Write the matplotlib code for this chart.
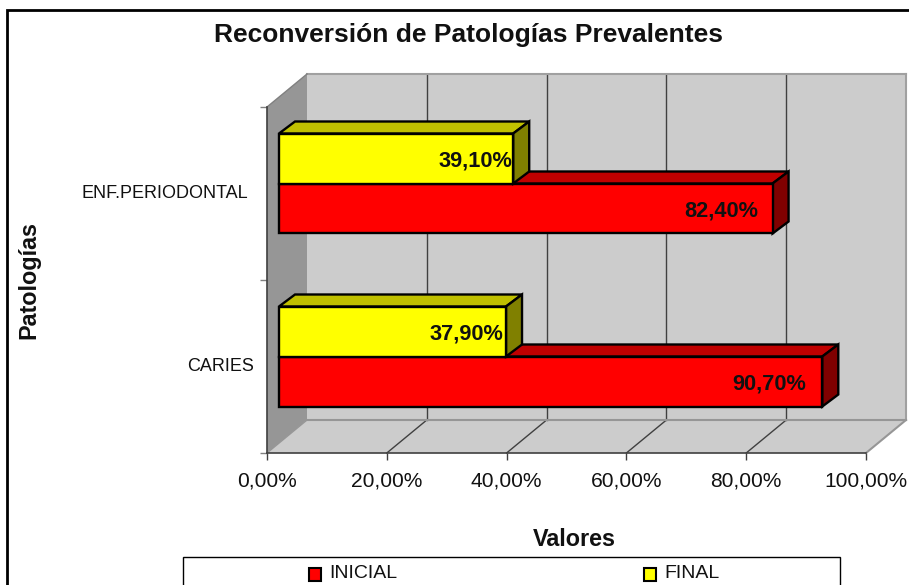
import matplotlib
matplotlib.use('Agg')
import matplotlib.pyplot as plt
from matplotlib.patches import Polygon, Rectangle

plt.rcParams['font.family'] = ['Liberation Sans', 'DejaVu Sans']

categories = ['CARIES', 'ENF.PERIODONTAL']
inicial = [90.7, 82.4]
final = [37.9, 39.1]
x_ticks = [0, 20, 40, 60, 80, 100]
x_tick_labels = ['0,00%', '20,00%', '40,00%', '60,00%', '80,00%', '100,00%']
series_names = ['INICIAL', 'FINAL']

W, H = 909, 585

fig = plt.figure(figsize=(W / 100, H / 100), dpi=100, facecolor='white')

# eje = plano frontal del grafico 3D, en pixeles de la imagen
ax = fig.add_axes([267 / W, 1 - 453 / H, (866 - 267) / W, (453 - 107) / H])
ax.set_xlim(0, 100)
ax.set_ylim(0, 2)
ax.patch.set_visible(False)
for s in ax.spines.values():
    s.set_visible(False)

# profundidad en unidades de datos
PX = 5.99
PY = 173.0
DX = 40 / PX
DY = 33 / PY
BAR_FX = 12 / PX
BAR_FY = 10 / PY
BAR_DX = 16 / PX
BAR_DY = 12 / PY
BAR_H = 50 / PY

WALL = '#cccccc'
SIDE = '#969696'
GRID = '#404040'
INK = '#111111'


def poly(pts, fc, ec='none', lw=0, z=1):
    ax.add_patch(Polygon(pts, closed=True, facecolor=fc, edgecolor=ec, linewidth=lw,
                         zorder=z, clip_on=False, joinstyle='miter'))


# pared del fondo, pared izquierda y piso
poly([(DX, DY), (100 + DX, DY), (100 + DX, 2 + DY), (DX, 2 + DY)], WALL, z=1)
poly([(0, 0), (DX, DY), (DX, 2 + DY), (0, 2)], SIDE, z=1)
poly([(0, 0), (100, 0), (100 + DX, DY), (DX, DY)], WALL, z=1)

for t in x_ticks[1:-1]:
    ax.plot([t + DX, t + DX], [DY, 2 + DY], color=GRID, lw=1, zorder=2, clip_on=False)
    ax.plot([t, t + DX], [0, DY], color=GRID, lw=1, zorder=2, clip_on=False)

# bordes grises de las paredes
ax.plot([DX, 100 + DX], [2 + DY, 2 + DY], color='#a0a0a0', lw=1.5, zorder=2, clip_on=False)
ax.plot([DX, 100 + DX], [DY, DY], color='#969696', lw=1.5, zorder=2, clip_on=False)
ax.plot([100 + DX, 100 + DX], [DY, 2 + DY], color='#a0a0a0', lw=1.5, zorder=2, clip_on=False)
ax.plot([100, 100 + DX], [0, DY], color='#969696', lw=1.5, zorder=2, clip_on=False)
ax.plot([0, DX], [2, 2 + DY], color='#808080', lw=1, zorder=2, clip_on=False)
ax.plot([0, DX], [0, DY], color='#969696', lw=1, zorder=2, clip_on=False)

# ejes frontales
ax.plot([0, 0], [0, 2], color='#404040', lw=1.2, zorder=3, clip_on=False)
ax.plot([0, 100], [0, 0], color='#404040', lw=1.2, zorder=3, clip_on=False)
ax.set_xticks(x_ticks)
ax.set_xticklabels(x_tick_labels, fontsize=15.1, color=INK)
ax.set_yticks([0, 1, 2])
ax.set_yticklabels([])
ax.tick_params(axis='x', length=5, width=1, color='#404040', pad=8)
ax.tick_params(axis='y', length=5, width=1, color='#808080')


def bar3d(v, y0, h, front, side, top, z):
    x0 = BAR_FX
    x1 = BAR_FX + v
    b = y0
    t = y0 + h
    lw = 1.7
    poly([(x0, t), (x1, t), (x1 + BAR_DX, t + BAR_DY), (x0 + BAR_DX, t + BAR_DY)], top, 'black', lw, z)
    poly([(x1, b), (x1 + BAR_DX, b + BAR_DY), (x1 + BAR_DX, t + BAR_DY), (x1, t)], side, 'black', lw, z)
    poly([(x0, b), (x1, b), (x1, t), (x0, t)], front, 'black', lw, z)


for i, name in enumerate(categories):
    base = i + 0.5 + BAR_FY
    nudge = 0.3 * i  # la fila de arriba va un poco mas a la derecha
    bar3d(inicial[i], base - BAR_H, BAR_H, '#ff0000', '#800000', '#c00000', 5 + 2 * (1 - i))
    bar3d(final[i], base, BAR_H, '#ffff00', '#808000', '#c0c000', 6 + 2 * (1 - i))
    ax.text(inicial[i] + BAR_FX - 2.7 + nudge, base - BAR_H / 2 - 0.012, f'{inicial[i]:.2f}%'.replace('.', ','),
            ha='right', va='center', fontsize=15.7, fontweight='bold', color=INK, zorder=20)
    ax.text(final[i] + BAR_FX - 0.4 + nudge, base + BAR_H / 2 - 0.012, f'{final[i]:.2f}%'.replace('.', ','),
            ha='right', va='center', fontsize=15.7, fontweight='bold', color=INK, zorder=20)

# etiquetas de categoria
ax.text(-2.2, 0.5, categories[0], ha='right', va='center', fontsize=13, color=INK)
ax.text(-3.2, 1.5, categories[1], ha='right', va='center', fontsize=13, color=INK)

# titulos
fig.text(469 / W, 1 - 35 / H, 'Reconversión de Patologías Prevalentes', ha='center', va='center',
         fontsize=19, fontweight='bold', color=INK)
fig.text(29 / W, 1 - 280 / H, 'Patologías', rotation=90, ha='center', va='center',
         fontsize=16.8, fontweight='bold', color=INK)
fig.text(574.5 / W, 1 - 540 / H, 'Valores', ha='center', va='center',
         fontsize=16.8, fontweight='bold', color=INK)

# marco exterior
fig.add_artist(Rectangle((7 / W, -0.02), 1.1, 1 - 10 / H + 0.02, transform=fig.transFigure,
                         facecolor='none', edgecolor='black', linewidth=2, zorder=0))

# leyenda (cortada por abajo como en la imagen)
fig.add_artist(Rectangle((183 / W, -0.02), (840 - 183) / W, 1 - 557 / H + 0.02, transform=fig.transFigure,
                         facecolor='white', edgecolor='black', linewidth=1, zorder=30))
for name, color, mx, tx in zip(series_names, ['#ff0000', '#ffff00'], [308.5, 643.5], [329, 664]):
    fig.add_artist(Rectangle((mx / W, 1 - 580.5 / H), 12.5 / W, 12.5 / H, transform=fig.transFigure,
                             facecolor=color, edgecolor='black', linewidth=1.5, zorder=31))
    fig.text(tx / W, 1 - 574 / H, name, ha='left', va='center', fontsize=14, color=INK, zorder=31)

fig.savefig('out.png', dpi=100, facecolor='white')
